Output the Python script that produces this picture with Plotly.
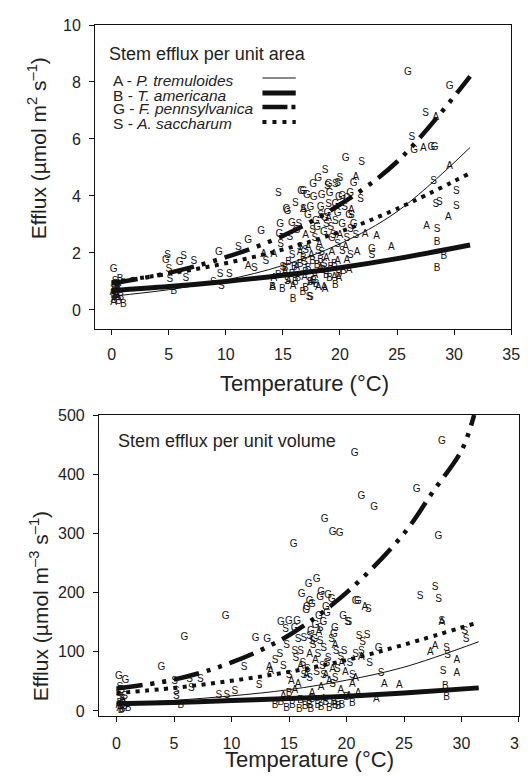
import plotly.graph_objects as go

# ---------------- data: top panel (efflux per unit area) ----------------
area_A_T = [28.4, 27.3, 29.6, 29.5, 27.6, 23.2, 24.5, 22.2, 21.4, 19.5, 18.6, 13.3, 14.2, 11.95, 14.2, 14.1,
            15.9, 18.1, 18.7, 16.8, 0.17, 0.4, 0.2, 17.5, 18.2, 19.8, 20.5, 16.2, 17.0, 19.0, 20.8, 15.2, 21.0, 17.5,
            16.5, 18.8, 20.0, 17.8, 19.3, 21.5, 0.1, 0.5,
            15.5, 16.9, 18.3, 19.9, 20.6, 17.2]
area_A_y = [6.74, 5.68, 5.04, 3.25, 2.94, 2.59, 2.2, 2.64, 4.65, 1.15, 0.8, 1.94, 1.94, 1.53, 1.12, 0.77,
            0.83, 0.77, 0.71, 3.52, 0.25, 0.55, 0.35, 1.9, 2.3, 1.7, 2.2, 1.5, 2.6, 3.2, 1.4, 1.3, 3.5, 0.95,
            2.0, 1.8, 2.6, 1.2, 2.0, 2.0, 0.6, 0.45,
            1.0, 1.15, 1.45, 1.1, 1.75, 2.2]
area_B_T = [28.5, 29.1, 28.5, 19.1, 19.6, 17.9, 17.0, 14.95, 15.9, 16.75, 17.4, 5.45, 1.03, 0.8, 0.74, 0.5,
            16.0, 16.5, 17.2, 18.0, 18.5, 15.5, 17.6, 19.2, 14.6, 16.3, 20.3, 14.1,
            17.0, 18.8, 16.8, 19.5, 15.2, 0.2, 0.6,
            15.8, 17.7, 18.3, 19.9, 16.1]
area_B_y = [2.37, 1.86, 1.47, 1.12, 0.87, 0.89, 0.75, 0.71, 0.36, 0.6, 0.95, 0.66, 0.19, 0.42, 1.06, 0.8,
            1.5, 1.6, 1.45, 1.55, 1.4, 1.65, 1.7, 1.5, 1.2, 1.1, 1.35, 0.77,
            1.3, 1.2, 1.8, 1.6, 1.45, 0.5, 0.3,
            1.25, 1.0, 1.75, 1.25, 0.95]
area_G_T = [25.96, 29.6, 26.5, 28.0, 28.3, 20.5, 16.8, 17.7, 21.2, 19.9, 20.2, 22.8, 16.6, 17.65, 20.2, 15.4,
            14.75, 15.8, 13.1, 14.7, 11.95, 9.4, 0.17, 4.75, 5.95, 18.3, 19.0, 17.2, 18.6, 20.8, 18.0, 15.3,
            18.4, 18.9, 19.6, 17.4, 18.1, 16.2, 19.3, 20.6, 21.2, 0.5,
            17.9, 18.7, 19.1, 17.1, 19.8, 20.9]
area_G_y = [8.35, 7.85, 5.6, 5.71, 5.71, 5.31, 4.17, 3.96, 4.42, 3.95, 2.99, 2.12, 4.16, 4.4, 3.97, 3.46,
            2.99, 3.02, 2.76, 2.64, 2.43, 2.03, 1.41, 1.73, 1.65, 3.6, 4.4, 3.3, 2.7, 3.3, 2.9, 3.52,
            4.0, 3.4, 3.7, 3.6, 4.6, 2.8, 2.5, 3.9, 3.0, 0.9,
            3.1, 3.2, 4.1, 4.0, 3.4, 4.1]
area_S_T = [27.5, 26.3, 21.9, 18.7, 28.2, 30.2, 28.4, 28.7, 30.2, 28.5, 22.8, 19.6, 20.0, 21.8, 20.9, 20.2,
            17.3, 14.6, 18.9, 19.8, 16.1, 11.1, 15.4, 17.4, 4.9, 6.3, 7.2, 5.0, 5.1, 6.5, 8.9, 9.6, 0.3, 0.6,
            16.5, 17.8, 18.4, 15.8, 19.2, 21.0, 13.5, 14.8, 12.5, 10.3, 16.8, 9.5,
            18.3, 19.0, 16.4, 20.4, 17.0, 19.8, 21.4, 18.6, 15.0, 20.9, 0.4, 0.15,
            17.6, 18.1, 19.4, 16.9, 20.6, 18.8, 19.6, 15.6]
area_S_y = [6.88, 6.04, 5.19, 4.9, 4.49, 4.16, 3.7, 3.77, 3.64, 2.82, 1.92, 4.4, 4.6, 3.87, 2.84, 2.06,
            0.45, 4.08, 4.33, 4.45, 3.75, 2.18, 1.0, 0.42, 1.92, 1.88, 1.71, 1.41, 1.06, 1.12, 0.95, 0.83, 1.0, 0.7,
            2.2, 2.5, 2.0, 1.9, 2.9, 3.3, 1.7, 2.3, 1.45, 1.24, 3.52, 1.24,
            3.3, 3.7, 3.0, 3.6, 2.1, 2.3, 2.6, 1.6, 1.5, 1.9, 0.85, 0.75,
            2.8, 2.05, 2.6, 1.65, 2.5, 3.0, 3.1, 2.55]

# fitted curves
fit_T = [0, 5, 10, 15, 20, 25, 31.4]
area_fit_A = [0.48, 0.71, 1.05, 1.56, 2.32, 3.45, 5.7]
area_fit_B = [0.68, 0.82, 1.0, 1.22, 1.48, 1.8, 2.28]
area_fit_G = [0.93, 1.3, 1.85, 2.6, 3.7, 5.2, 8.2]
area_fit_S = [0.98, 1.27, 1.64, 2.12, 2.74, 3.55, 4.8]

# ---------------- data: bottom panel (efflux per unit volume) ----------------
vol_A_T = [21.6, 27.7, 27.3, 29.6, 29.6, 23.3, 24.6, 22.6, 17.6, 13.3, 13.4, 28.3, 16.5, 18.5, 19.5, 20.5,
           17.0, 14.5, 15.8, 0.3, 0.6, 21.3, 19.0,
           16.0, 17.3, 18.8, 19.9, 20.8, 15.2, 17.8, 21.0, 0.5, 0.2,
           16.8, 18.2, 19.6, 15.5, 20.2, 18.0]
vol_A_v = [174, 109, 98, 85, 62.5, 44.4, 43.4, 19, 132, 72.6, 67, 150, 60, 50, 35, 45,
           30, 25, 45, 5, 15, 90, 110,
           75, 85, 70, 65, 55, 50, 40, 30, 20, 10,
           95, 60, 80, 35, 25, 20]
vol_B_T = [28.6, 28.7, 14.3, 15.9, 16.8, 17.5, 19.0, 19.6, 13.8, 5.6, 0.5, 1.0, 0.3, 18.2, 17.0, 16.0, 20.0, 15.0,
           14.8, 16.4, 17.8, 18.5, 19.3, 16.9, 0.7, 0.4, 15.3, 18.9, 20.5]
vol_B_v = [41.7, 22, 13.5, 2.2, 10, 10, 10, 9, 10, 9.6, 2, 5, 12, 15, 20, 18, 22, 30,
           5, 8, 6, 5, 8, 3, 8, 0, 10, 14, 12]
vol_G_T = [28.3, 20.7, 21.3, 22.4, 26.1, 18.1, 18.8, 19.4, 28.0, 16.7, 17.4, 16.1, 16.8, 17.7, 18.7, 16.5,
           20.8, 22.8, 16.9, 14.3, 15.0, 15.7, 15.5, 12.1, 13.1, 9.5, 5.9, 3.9, 0.2, 0.77, 15.4, 16.55,
           21.0, 17.6, 18.2, 18.0, 19.0, 17.2, 17.8, 18.3, 18.9, 17.3, 0.4, 17.0, 18.4, 19.7]
vol_G_v = [455.6, 435.8, 362.6, 343, 373.8, 323, 300.7, 299, 295, 213, 222, 196, 185, 191, 188, 170,
           185, 106, 135, 149, 151, 151, 140, 123, 120, 160, 124.5, 73.8, 58.6, 51, 282, 174,
           185, 160, 175, 150, 140, 120, 200, 165, 130, 145, 35, 180, 195, 160]
vol_S_T = [26.4, 27.7, 28.0, 28.3, 30.3, 30.4, 28.7, 28.8, 28.4, 23.0, 21.1, 21.8, 20.2, 16.8, 17.7, 21.9,
           14.7, 16.3, 17.0, 21.4, 20.1, 11.1, 12.4, 10.3, 5.06, 5.2, 5.2, 6.35, 7.3, 6.5, 8.9, 9.6, 0.3, 0.5,
           15.5, 16.2, 17.5, 18.4, 19.2, 18.0, 15.0, 16.8, 14.5, 19.8, 20.5, 22.0, 13.8,
           16.0, 17.1, 18.0, 18.7, 19.5, 20.3, 16.6, 17.9, 18.8, 15.6, 14.8, 21.3, 0.2, 0.7,
           16.3, 17.4, 18.3, 19.1, 20.8, 15.8, 17.7, 19.0, 14.2]
vol_S_v = [194, 208, 188, 151.5, 134.6, 120, 106, 94, 66, 64, 126, 127, 149, 126, 118, 171,
           137, 123, 118, 115, 149, 72.6, 43, 33, 50, 33, 25, 53, 53, 38, 26.5, 26.5, 40, 20,
           100, 80, 95, 88, 70, 60, 60, 55, 75, 100, 60, 80, 85,
           100, 110, 105, 120, 90, 80, 70, 75, 45, 88, 110, 100, 30, 25,
           60, 65, 80, 100, 95, 120, 140, 55, 95]

vol_fit_T = [0, 5, 10, 15, 20, 25, 27.5, 30, 31.1]
vol_fit_G = [38, 53, 82, 128, 200, 300, 370, 440, 500]
vol_fit_T2 = [0, 5, 10, 15, 20, 25, 31.5]
vol_fit_A = [12.5, 17.8, 25.5, 36, 52, 74, 117]
vol_fit_B = [12, 14.5, 17.5, 21, 25, 30.5, 39]
vol_fit_S = [30, 39, 51, 66, 86, 112, 150]

legend_labels = ["A - <i>P. tremuloides</i>", "B - <i>T. americana</i>",
                 "G - <i>F. pennsylvanica</i>", "S - <i>A. saccharum</i>"]
x_ticks = [0, 5, 10, 15, 20, 25, 30, 35]

FONT = "Liberation Sans, Arial, sans-serif"
INK = "#111111"
TXT = "#222222"
DASHDOT = "26px,8px,4px,8px,4px,8px"
DOT = "4px,5.5px"

fig = go.Figure()

def add_points(xs, ys, letter, xa, ya):
    fig.add_trace(go.Scatter(x=xs, y=ys, mode="text", text=[letter] * len(xs),
                             textfont=dict(family=FONT, size=10, color=INK),
                             xaxis=xa, yaxis=ya, showlegend=False, hoverinfo="skip"))

def add_curve(xs, ys, width, dash, xa, ya):
    fig.add_trace(go.Scatter(x=xs, y=ys, mode="lines", line=dict(color=INK, width=width, dash=dash, shape="spline"),
                             xaxis=xa, yaxis=ya, showlegend=False, hoverinfo="skip"))

for xs, ys, L in [(area_A_T, area_A_y, "A"), (area_B_T, area_B_y, "B"),
                  (area_G_T, area_G_y, "G"), (area_S_T, area_S_y, "S")]:
    add_points(xs, ys, L, "x", "y")
add_curve(fit_T, area_fit_A, 1, "solid", "x", "y")
add_curve(fit_T, area_fit_B, 5, "solid", "x", "y")
add_curve(fit_T, area_fit_G, 4.5, DASHDOT, "x", "y")
add_curve(fit_T, area_fit_S, 4, DOT, "x", "y")

for xs, ys, L in [(vol_A_T, vol_A_v, "A"), (vol_B_T, vol_B_v, "B"),
                  (vol_G_T, vol_G_v, "G"), (vol_S_T, vol_S_v, "S")]:
    add_points(xs, ys, L, "x2", "y2")
add_curve(vol_fit_T2, vol_fit_A, 1, "solid", "x2", "y2")
add_curve(vol_fit_T2, vol_fit_B, 5, "solid", "x2", "y2")
add_curve(vol_fit_T, vol_fit_G, 4.5, DASHDOT, "x2", "y2")
add_curve(vol_fit_T2, vol_fit_S, 4, DOT, "x2", "y2")

axis_common = dict(showgrid=False, zeroline=False, showline=True, linecolor=INK, linewidth=1,
                   mirror=True, ticks="outside", ticklen=5, tickcolor=INK,
                   tickfont=dict(family=FONT, size=16, color=TXT))

L_M, R_M, T_M, B_M = 87, 8, 17, 70
PW = 528 - L_M - R_M
PH = 778 - T_M - B_M

def px_x(px):
    return (px - L_M) / PW

def px_y(py):
    return (778 - B_M - py) / PH

fig.update_layout(
    width=528, height=778,
    margin=dict(l=L_M, r=R_M, t=T_M, b=B_M),
    paper_bgcolor="white", plot_bgcolor="white",
    xaxis=dict(domain=[0, px_x(512)], range=[-1.46, 35], tickvals=x_ticks, anchor="y",
               ticklabelstandoff=6, **axis_common),
    yaxis=dict(domain=[px_y(321), 1], range=[-0.67, 10], tickvals=[0, 2, 4, 6, 8, 10], anchor="x",
               ticklabelstandoff=5, **axis_common),
    xaxis2=dict(domain=[px_x(91), 1.0], range=[-1.53, 35], tickvals=x_ticks, anchor="y2",
                ticklabelstandoff=8, **axis_common),
    yaxis2=dict(domain=[0, px_y(407)], range=[-8.5, 500], tickvals=[0, 100, 200, 300, 400, 500], anchor="x2",
                ticklabelstandoff=5, **axis_common),
)

ann = []
ann.append(dict(x=px_x(99), y=px_y(46), text="Stem efflux per unit area", font=dict(family=FONT, size=18, color=TXT)))
ann.append(dict(x=px_x(108), y=px_y(433), text="Stem efflux per unit volume", font=dict(family=FONT, size=18, color=TXT)))
rows = [72, 87, 101, 116]
for lab, r in zip(legend_labels, rows):
    ann.append(dict(x=px_x(103), y=px_y(r), text=lab, font=dict(family=FONT, size=15.5, color=TXT)))
for a in ann:
    a.update(xref="paper", yref="paper", xanchor="left", yanchor="middle", showarrow=False)

ann.append(dict(x=px_x(28), y=px_y(140), xref="paper", yref="paper", showarrow=False, textangle=-90,
                xanchor="center", yanchor="middle",
                text="Efflux (µmol m<sup>2</sup> s<sup>–1</sup>)", font=dict(family=FONT, size=21, color=TXT)))
ann.append(dict(x=px_x(30), y=px_y(598), xref="paper", yref="paper", showarrow=False, textangle=-90,
                xanchor="center", yanchor="middle",
                text="Efflux (µmol m<sup>–3</sup> s<sup>–1</sup>)", font=dict(family=FONT, size=21, color=TXT)))
ann.append(dict(x=px_x(301), y=px_y(375), xref="paper", yref="paper", showarrow=False,
                text="Temperature (°C)", font=dict(family=FONT, size=22, color=TXT)))
ann.append(dict(x=px_x(306), y=px_y(766), xref="paper", yref="paper", showarrow=False,
                text="Temperature (°C)", font=dict(family=FONT, size=22, color=TXT)))
fig.update_layout(annotations=ann)

shapes = []
x0, x1 = px_x(258), px_x(292)
styles = [(1, "solid"), (5, "solid"), (4.5, "25px,4px,4px,100px"), (4, "4px,6px")]
for (w, d), r in zip(styles, rows):
    shapes.append(dict(type="line", xref="paper", yref="paper", x0=x0, x1=x1, y0=px_y(r - 2), y1=px_y(r - 2),
                       line=dict(color=INK, width=w, dash=d)))
fig.update_layout(shapes=shapes)

fig.write_html("out.html")
